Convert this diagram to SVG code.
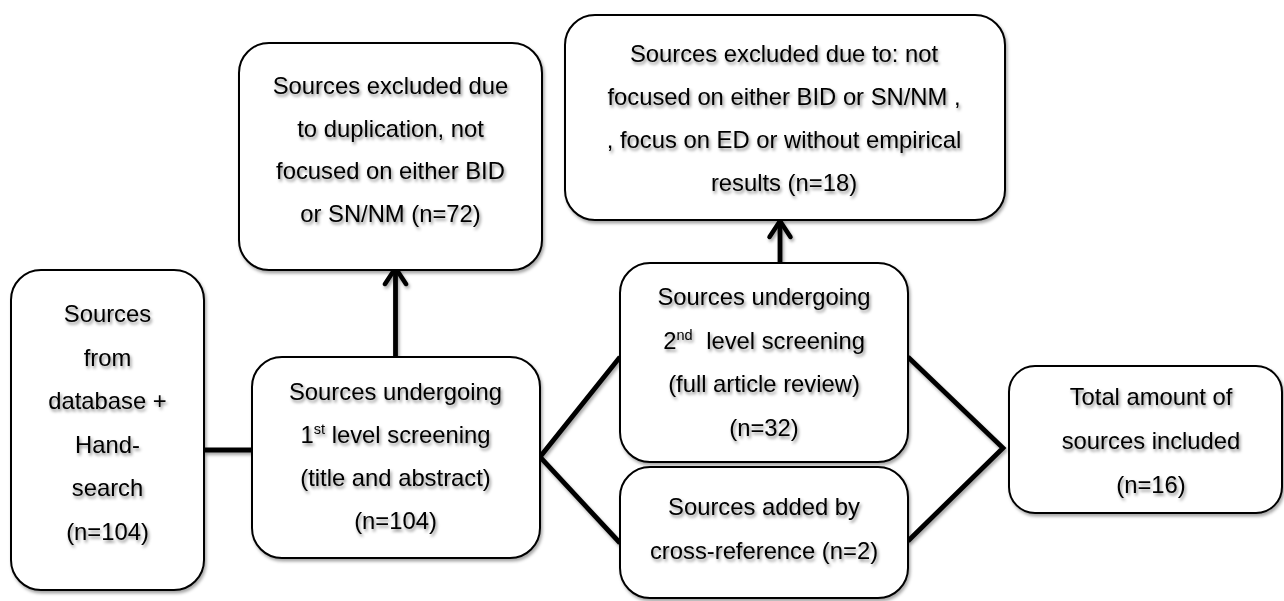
<svg xmlns="http://www.w3.org/2000/svg" width="1284" height="601" viewBox="0 0 1284 601">
<defs>
<filter id="sh" filterUnits="userSpaceOnUse" x="0" y="0" width="1284" height="601">
<feDropShadow dx="1.5" dy="2.5" stdDeviation="1.6" flood-color="#000" flood-opacity="0.35"/>
</filter>
<filter id="tsh" x="-10%" y="-30%" width="130%" height="170%">
<feDropShadow dx="1.5" dy="2.5" stdDeviation="1.5" flood-color="#000" flood-opacity="0.45"/>
</filter>
<marker id="chev" viewBox="-22 -14 26 28" refX="0" refY="0" markerWidth="26" markerHeight="28" markerUnits="userSpaceOnUse" orient="auto">
<path d="M-16,-10.5 L0,0 L-16,10.5" fill="none" stroke="#000" stroke-width="4.5" stroke-linejoin="round" stroke-linecap="round"/>
</marker>
</defs>
<style>
.box{fill:#fff;stroke:#000;stroke-width:2;filter:url(#sh)}
.t{font-family:"Liberation Sans",Arial,sans-serif;font-size:23.8px;fill:#000;text-anchor:middle;filter:url(#tsh)}
.sup{font-size:14.5px}
.con{stroke:#000;stroke-width:4.8;fill:none}
</style>
<rect width="1284" height="601" fill="#fff"/>

<g id="connectors" filter="url(#sh)">
<line class="con" x1="204" y1="450" x2="252" y2="450"/>
<line class="con" x1="395.5" y1="357" x2="395.5" y2="268" marker-end="url(#chev)"/>
<line class="con" x1="780" y1="263" x2="780" y2="221" marker-end="url(#chev)"/>
<polyline class="con" points="620,357 540,457 620,543" stroke-linejoin="miter"/>
<polyline class="con" points="908,357 1003,448 908,541" stroke-linejoin="miter"/>
</g>

<g id="n-sources">
<rect class="box" x="11" y="270" width="193" height="320" rx="30"/>
<text class="t" x="107.5" y="322">Sources</text>
<text class="t" x="107.5" y="365.5">from</text>
<text class="t" x="107.5" y="409">database +</text>
<text class="t" x="107.5" y="452.5">Hand-</text>
<text class="t" x="107.5" y="496">search</text>
<text class="t" x="107.5" y="539.5">(n=104)</text>
</g>

<g id="n-first">
<rect class="box" x="252" y="357" width="288" height="201" rx="30"/>
<text class="t" x="395.5" y="400">Sources undergoing</text>
<text class="t" x="395.5" y="443">1<tspan class="sup" dy="-9">st</tspan><tspan dy="9"> level screening</tspan></text>
<text class="t" x="395.5" y="486">(title and abstract)</text>
<text class="t" x="395.5" y="529">(n=104)</text>
</g>

<g id="n-excl1">
<rect class="box" x="239" y="43" width="303" height="227" rx="30"/>
<text class="t" x="390.5" y="94">Sources excluded due</text>
<text class="t" x="390.5" y="136.5">to duplication, not</text>
<text class="t" x="390.5" y="179">focused on either BID</text>
<text class="t" x="390.5" y="221.5">or SN/NM (n=72)</text>
</g>

<g id="n-excl2">
<rect class="box" x="565" y="15" width="440" height="205" rx="30"/>
<text class="t" x="784" y="62">Sources excluded due to: not</text>
<text class="t" x="784" y="105">focused on either BID or SN/NM ,</text>
<text class="t" x="784" y="148">, focus on ED or without empirical</text>
<text class="t" x="784" y="191">results (n=18)</text>
</g>

<g id="n-second">
<rect class="box" x="620" y="263" width="288" height="199" rx="30"/>
<text class="t" x="764" y="305">Sources undergoing</text>
<text class="t" x="764" y="349">2<tspan class="sup" dy="-9">nd</tspan><tspan dy="9" dx="7"> level screening</tspan></text>
<text class="t" x="764" y="392">(full article review)</text>
<text class="t" x="764" y="436">(n=32)</text>
</g>

<g id="n-cross">
<rect class="box" x="620" y="467" width="288" height="131" rx="30"/>
<text class="t" x="764" y="515">Sources added by</text>
<text class="t" x="764" y="559">cross-reference (n=2)</text>
</g>

<g id="n-total">
<rect class="box" x="1009" y="366" width="273" height="147" rx="26"/>
<text class="t" x="1151" y="405">Total amount of</text>
<text class="t" x="1151" y="449">sources included</text>
<text class="t" x="1151" y="493">(n=16)</text>
</g>
</svg>
